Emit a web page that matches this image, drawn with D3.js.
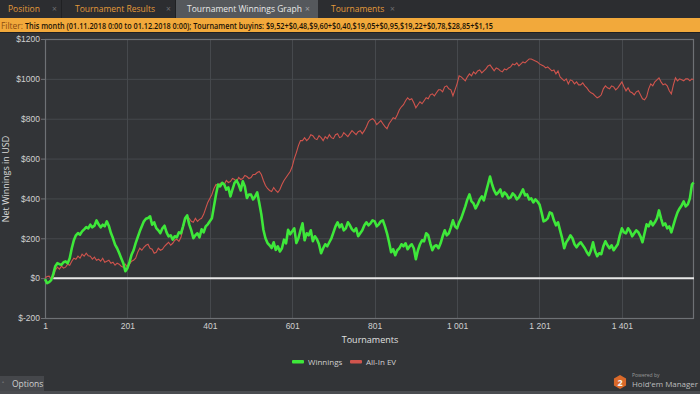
<!DOCTYPE html>
<html>
<head>
<meta charset="utf-8">
<script src="https://cdn.jsdelivr.net/npm/d3@7"></script>
<style>
  body { margin: 0; background: #323437; overflow: hidden; }
  svg { display: block; font-family: "Open Sans", "Noto Sans", sans-serif; }
</style>
</head>
<body>
<div id="graph"></div>
<script>
// tournament numbers (every 5 tournaments)
var tournaments = [
  1, 6, 11, 16, 21, 26, 31, 36, 41, 46, 51, 56, 61, 66, 71, 76, 81, 86, 91, 96,
  101, 106, 111, 116, 121, 126, 131, 136, 141, 146, 151, 156, 161, 166, 171, 176, 181, 186, 191, 196,
  201, 206, 211, 216, 221, 226, 231, 236, 241, 246, 251, 256, 261, 266, 271, 276, 281, 286, 291, 296,
  301, 306, 311, 316, 321, 326, 331, 336, 341, 346, 351, 356, 361, 366, 371, 376, 381, 386, 391, 396,
  401, 406, 411, 416, 421, 426, 431, 436, 441, 446, 451, 456, 461, 466, 471, 476, 481, 486, 491, 496,
  501, 506, 511, 516, 521, 526, 531, 536, 541, 546, 551, 556, 561, 566, 571, 576, 581, 586, 591, 596,
  601, 606, 611, 616, 621, 626, 631, 636, 641, 646, 651, 656, 661, 666, 671, 676, 681, 686, 691, 696,
  701, 706, 711, 716, 721, 726, 731, 736, 741, 746, 751, 756, 761, 766, 771, 776, 781, 786, 791, 796,
  801, 806, 811, 816, 821, 826, 831, 836, 841, 846, 851, 856, 861, 866, 871, 876, 881, 886, 891, 896,
  901, 906, 911, 916, 921, 926, 931, 936, 941, 946, 951, 956, 961, 966, 971, 976, 981, 986, 991, 996,
  1001, 1006, 1011, 1016, 1021, 1026, 1031, 1036, 1041, 1046, 1051, 1056, 1061, 1066, 1071, 1076, 1081, 1086, 1091, 1096,
  1101, 1106, 1111, 1116, 1121, 1126, 1131, 1136, 1141, 1146, 1151, 1156, 1161, 1166, 1171, 1176, 1181, 1186, 1191, 1196,
  1201, 1206, 1211, 1216, 1221, 1226, 1231, 1236, 1241, 1246, 1251, 1256, 1261, 1266, 1271, 1276, 1281, 1286, 1291, 1296,
  1301, 1306, 1311, 1316, 1321, 1326, 1331, 1336, 1341, 1346, 1351, 1356, 1361, 1366, 1371, 1376, 1381, 1386, 1391, 1396,
  1401, 1406, 1411, 1416, 1421, 1426, 1431, 1436, 1441, 1446, 1451, 1456, 1461, 1466, 1471, 1476, 1481, 1486, 1491, 1496,
  1501, 1506, 1511, 1516, 1521, 1526, 1531, 1536, 1541, 1546, 1551, 1556, 1561, 1566, 1571, 1575];

var winnings = [
  -5, -25, -20, -10, 20, 60, 75, 70, 67, 80, 84, 75, 100, 150, 190, 215, 226, 218, 235, 245,
  256, 250, 268, 255, 263, 290, 270, 255, 268, 260, 285, 262, 226, 200, 168, 150, 126, 100, 75, 35,
  50, 80, 117, 140, 176, 205, 235, 260, 285, 298, 302, 310, 268, 280, 251, 240, 226, 250, 263, 230,
  210, 215, 193, 210, 205, 230, 225, 260, 300, 315, 270, 240, 200, 215, 225, 205, 245, 230, 260, 270,
  285, 300, 360, 420, 470, 460, 478, 470, 444, 455, 410, 445, 478, 490, 470, 440, 486, 460, 402, 420,
  419, 395, 410, 430, 377, 320, 243, 200, 176, 165, 151, 180, 142, 160, 134, 150, 193, 175, 243, 220,
  235, 250, 176, 200, 240, 275, 190, 225, 215, 240, 185, 210, 195, 170, 125, 150, 170, 160, 180, 200,
  230, 260, 280, 255, 270, 240, 250, 280, 265, 245, 235, 250, 210, 225, 240, 265, 280, 265, 275, 290,
  285, 260, 270, 285, 290, 260, 225, 180, 130, 145, 115, 140, 150, 170, 160, 175, 145, 160, 170, 150,
  95, 140, 170, 190, 185, 225, 215, 175, 140, 160, 165, 150, 175, 210, 240, 215, 225, 255, 290, 260,
  250, 280, 300, 330, 360, 395, 420, 385, 375, 350, 370, 395, 410, 390, 430, 470, 510, 470, 440, 420,
  430, 445, 410, 430, 420, 400, 405, 425, 415, 395, 405, 425, 445, 415, 420, 395, 400, 380, 395, 385,
  370, 330, 285, 290, 300, 330, 325, 290, 265, 280, 240, 200, 150, 180, 195, 215, 200, 170, 155, 170,
  180, 165, 150, 130, 115, 140, 180, 135, 110, 125, 120, 160, 185, 165, 150, 165, 140, 155, 170, 215,
  250, 230, 225, 250, 235, 210, 225, 240, 230, 210, 180, 225, 270, 260, 285, 265, 280, 300, 340, 300,
  265, 275, 250, 260, 230, 265, 300, 330, 350, 365, 385, 360, 370, 400, 470, 480];

var allInEV = [
  0, 8, 10, -5, 5, 40, 55, 45, 60, 50, 55, 70, 65, 85, 100, 95, 110, 100, 120, 110,
  125, 112, 110, 95, 105, 90, 95, 85, 100, 80, 85, 90, 75, 80, 65, 75, 70, 60, 55, 70,
  55, 70, 85, 90, 100, 130, 150, 140, 155, 165, 170, 150, 145, 125, 130, 150, 140, 145, 160, 170,
  180, 165, 175, 190, 195, 185, 205, 250, 290, 310, 300, 285, 280, 300, 285, 295, 300, 320, 350, 380,
  400, 420, 450, 470, 465, 475, 480, 470, 490, 480, 485, 500, 495, 485, 505, 495, 500, 515, 510, 500,
  505, 520, 520, 530, 535, 520, 490, 465, 450, 440, 435, 455, 440, 430, 445, 470, 490, 505, 520, 535,
  560, 600, 630, 665, 690, 690, 705, 690, 700, 720, 715, 700, 695, 715, 705, 690, 710, 700, 720, 705,
  700, 720, 725, 705, 710, 730, 720, 710, 725, 740, 730, 720, 735, 740, 725, 740, 760, 785, 795, 800,
  790, 770, 780, 790, 775, 760, 750, 775, 790, 805, 800, 820, 845, 860, 870, 890, 905, 895, 900, 880,
  855, 870, 885, 875, 890, 905, 900, 920, 925, 915, 930, 945, 945, 935, 960, 965, 950, 945, 915, 945,
  975, 1015, 1010, 1000, 990, 1010, 1025, 1015, 1035, 1025, 1040, 1045, 1030, 1040, 1050, 1065, 1070, 1055, 1040, 1055,
  1050, 1040, 1035, 1050, 1045, 1055, 1060, 1075, 1070, 1080, 1065, 1075, 1085, 1080, 1090, 1100, 1100, 1095, 1090, 1085,
  1075, 1070, 1065, 1055, 1060, 1050, 1040, 1045, 1025, 1040, 1010, 1000, 990, 1000, 975, 995, 990, 975, 985, 970,
  970, 980, 965, 955, 940, 930, 925, 915, 905, 910, 920, 950, 965, 955, 950, 965, 960, 945, 955, 970,
  985, 960, 940, 955, 935, 930, 920, 935, 940, 920, 900, 895, 910, 950, 975, 965, 985, 995, 1005, 985,
  970, 975, 965, 940, 925, 970, 1005, 990, 1000, 995, 990, 1000, 1000, 990, 1000, 995];

var yTicks = [-200, 0, 200, 400, 600, 800, 1000, 1200];
var xTicks = [1, 201, 401, 601, 801, 1001, 1201, 1401];
var tabNames = ["Position", "Tournament Results", "Tournament Winnings Graph", "Tournaments"];
var filterText = "This month (01.11.2018 0:00 to 01.12.2018 0:00); Tournament buyins: $9,52+$0,48,$9,60+$0,40,$19,05+$0,95,$19,22+$0,78,$28,85+$1,15";

var svgWidth = 700, svgHeight = 394;
var margin = { top: 39, right: 6, bottom: 76, left: 45 };
var width = svgWidth - margin.left - margin.right;
var height = svgHeight - margin.top - margin.bottom;

var svg = d3.select("#graph").append("svg")
  .attr("width", svgWidth)
  .attr("height", svgHeight);

svg.append("rect").attr("width", svgWidth).attr("height", svgHeight).attr("fill", "#323437");

// tab strip
svg.append("rect").attr("width", svgWidth).attr("height", 18).attr("fill", "#2c2d30");
var tabX = [0, 62, 176, 318];
var tabW = [62, 114, 142, 86];
var tabTextX = [8, 75, 187, 331];
var tabCloseX = [52, 166, 305, 390];
tabNames.forEach(function(name, i) {
  var active = i === 2;
  if (active) {
    svg.append("rect")
      .attr("x", tabX[i]).attr("y", 0).attr("width", tabW[i]).attr("height", 18)
      .attr("fill", "#55585c");
  }
  if (i < 2) {
    svg.append("line")
      .attr("x1", tabX[i] + tabW[i] - 0.5).attr("x2", tabX[i] + tabW[i] - 0.5)
      .attr("y1", 0).attr("y2", 18).attr("stroke", "#202123");
  }
  svg.append("text")
    .attr("x", tabTextX[i]).attr("y", 12)
    .attr("font-size", "8.5px")
    .attr("fill", active ? "#e8e8e8" : "#e39a3a")
    .text(name);
  svg.append("text")
    .attr("x", tabCloseX[i]).attr("y", 12)
    .attr("font-size", "8.5px")
    .attr("fill", active ? "#a0a2a5" : "#6c6d70")
    .text("\u00d7");
});

// filter bar
svg.append("rect").attr("x", 0).attr("y", 18).attr("width", svgWidth).attr("height", 14).attr("fill", "#f2a93b");
svg.append("line").attr("x1", 0).attr("x2", svgWidth).attr("y1", 32.5).attr("y2", 32.5).attr("stroke", "#1f2022");
svg.append("text").attr("x", 1).attr("y", 28.5)
  .attr("font-size", "9px").attr("fill", "#8a4a10")
  .attr("textLength", 22).attr("lengthAdjust", "spacingAndGlyphs")
  .text("Filter:");
svg.append("text").attr("x", 25).attr("y", 28.5)
  .attr("font-size", "9px").attr("fill", "#1a1206").attr("font-weight", "600")
  .attr("textLength", 468).attr("lengthAdjust", "spacingAndGlyphs")
  .text(filterText);

var chartGroup = svg.append("g")
  .attr("transform", `translate(${margin.left}, ${margin.top})`);

var xScale = d3.scaleLinear().domain([1, 1576]).range([0, width]);
var yScale = d3.scaleLinear().domain([-200, 1200]).range([height, 0]);

// grid
chartGroup.append("g").selectAll("line.hg")
  .data(yTicks.slice(1, -1)).enter().append("line")
  .attr("x1", 0).attr("x2", width)
  .attr("y1", d => yScale(d) + 0.5).attr("y2", d => yScale(d) + 0.5)
  .attr("stroke", "#46494d");
chartGroup.append("g").selectAll("line.vg")
  .data(xTicks.slice(1)).enter().append("line")
  .attr("y1", 0).attr("y2", height)
  .attr("x1", d => Math.round(xScale(d)) + 0.5).attr("x2", d => Math.round(xScale(d)) + 0.5)
  .attr("stroke", "#46494d");

chartGroup.append("rect")
  .attr("x", 0.5).attr("y", 0.5).attr("width", width - 1).attr("height", height)
  .attr("fill", "none").attr("stroke", "#6e7175").attr("stroke-width", 1.2);

// axes
var leftAxis = d3.axisLeft(yScale).tickValues(yTicks).tickSize(4).tickFormat(d => "$" + d);
var bottomAxis = d3.axisBottom(xScale).tickValues(xTicks).tickSize(0)
  .tickFormat(d => d3.format(",")(d).replace(",", " "));

var yAxisG = chartGroup.append("g").call(leftAxis);
yAxisG.select(".domain").remove();
yAxisG.selectAll("line").attr("stroke", "#6e7175");
yAxisG.selectAll("text").attr("fill", "#d0d0d0").attr("font-size", "8.5px").attr("x", -5);

var xAxisG = chartGroup.append("g").attr("transform", `translate(0, ${height})`).call(bottomAxis);
xAxisG.select(".domain").remove();
xAxisG.selectAll("text").attr("fill", "#d0d0d0").attr("font-size", "8.5px").attr("dy", "0.9em");

// zero line
chartGroup.append("line")
  .attr("x1", xScale(21)).attr("x2", width)
  .attr("y1", yScale(0)).attr("y2", yScale(0))
  .attr("stroke", "#e8e8e8").attr("stroke-width", 2);

var lineFor = function(values) {
  return d3.line()
    .x((d, i) => xScale(tournaments[i]))
    .y(d => yScale(d))(values);
};

chartGroup.append("path")
  .attr("d", lineFor(allInEV))
  .attr("fill", "none").attr("stroke", "#d0544d").attr("stroke-width", 1.1);

chartGroup.append("path")
  .attr("d", lineFor(winnings))
  .attr("fill", "none").attr("stroke", "#3ee83a").attr("stroke-width", 2.6)
  .attr("stroke-linejoin", "round");

// axis titles
chartGroup.append("text")
  .attr("transform", "rotate(-90)")
  .attr("x", -140).attr("y", -36)
  .attr("text-anchor", "middle")
  .attr("font-size", "9px").attr("fill", "#d8d8d8")
  .text("Net Winnings in USD");

chartGroup.append("text")
  .attr("x", 325).attr("y", height + 25)
  .attr("text-anchor", "middle")
  .attr("font-size", "9px").attr("fill", "#e0e0e0")
  .text("Tournaments");

// legend
var legend = svg.append("g").attr("transform", "translate(292, 362)");
legend.append("rect").attr("x", 0).attr("y", -2).attr("width", 12).attr("height", 3.5).attr("rx", 1).attr("fill", "#3ee83a");
legend.append("text").attr("x", 16).attr("y", 2.5).attr("font-size", "8px").attr("fill", "#d0d0d0").text("Winnings");
legend.append("rect").attr("x", 58).attr("y", -2).attr("width", 12).attr("height", 3.5).attr("rx", 1).attr("fill", "#d0544d");
legend.append("text").attr("x", 74).attr("y", 2.5).attr("font-size", "8px").attr("fill", "#d0d0d0").text("All-In EV");

// options button
svg.append("rect").attr("x", 0).attr("y", 376).attr("width", 44).attr("height", 15).attr("fill", "#45474b");
svg.append("text").attr("x", 2).attr("y", 387).attr("font-size", "7px").attr("fill", "#b8b8b8").text("\u02c4");
svg.append("text").attr("x", 12).attr("y", 387).attr("font-size", "8.5px").attr("fill", "#cfcfcf").text("Options");
svg.append("rect").attr("x", 0).attr("y", 391).attr("width", svgWidth).attr("height", 3).attr("fill", "#4a4c50");

// powered by logo
var hex = d3.range(6).map(function(k) {
  var a = Math.PI / 3 * k + Math.PI / 6;
  return [620 + 7 * Math.cos(a), 382 + 7 * Math.sin(a)];
});
svg.append("path").attr("d", "M" + hex.join("L") + "Z").attr("fill", "#d9692a");
svg.append("text").attr("x", 620).attr("y", 385.5).attr("text-anchor", "middle")
  .attr("font-size", "9px").attr("font-weight", "bold").attr("fill", "#f4f4f4").text("2");
svg.append("text").attr("x", 632).attr("y", 377).attr("font-size", "5px").attr("fill", "#9a9a9a").text("Powered by");
svg.append("text").attr("x", 632).attr("y", 387).attr("font-size", "8px").attr("fill", "#bdbdbd")
  .attr("textLength", 66).attr("lengthAdjust", "spacingAndGlyphs")
  .text("Hold'em Manager");
</script>
</body>
</html>
